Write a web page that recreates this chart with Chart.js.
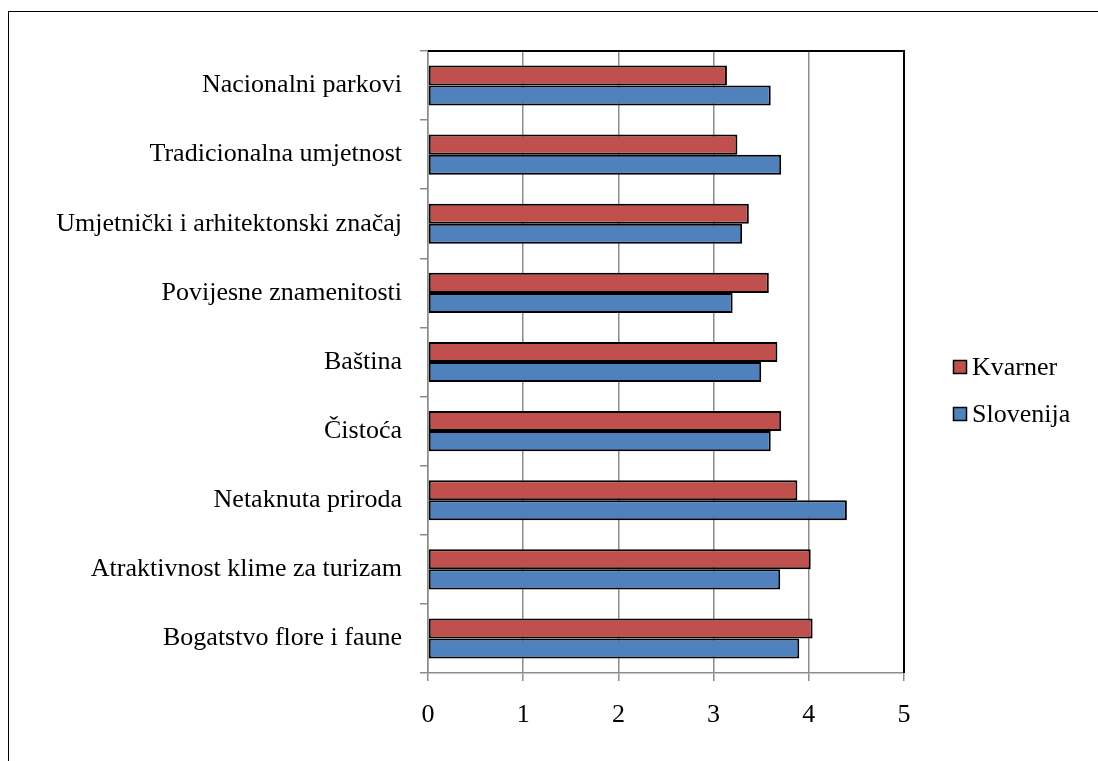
<!DOCTYPE html>
<html><head><meta charset="utf-8">
<script src="https://cdn.jsdelivr.net/npm/chart.js@4.4.0/dist/chart.umd.min.js"></script>
<style>
html,body{margin:0;padding:0;background:#fff;overflow:hidden;}
#frame{position:absolute;left:8px;top:11px;width:1200px;height:900px;border-left:1.5px solid #000;border-top:1.5px solid #000;}
#wrap{position:absolute;left:0;top:0;width:1098px;height:761px;}
</style></head>
<body>
<div id="frame"></div>
<div id="wrap"><canvas id="c" width="1098" height="761"></canvas></div>
<script>
const categories = ["Nacionalni parkovi","Tradicionalna umjetnost","Umjetnički i arhitektonski značaj","Povijesne znamenitosti","Baština","Čistoća","Netaknuta priroda","Atraktivnost klime za turizam","Bogatstvo flore i faune"];
const kvarner = [3.14,3.25,3.37,3.58,3.67,3.71,3.88,4.02,4.04];
const slovenija = [3.60,3.71,3.30,3.20,3.50,3.60,4.40,3.70,3.90];
const seriesNames = ["Kvarner","Slovenija"];
const xTicks = [0,1,2,3,4,5];
const colors = ["#C0504D","#4F81BD"];
const FONT = "'Liberation Serif','Times New Roman',serif";

const framePlugin = {
  id:'frameLines',
  afterDatasetsDraw(chart){
    const {ctx, chartArea:a} = chart;
    ctx.save();
    ctx.strokeStyle='#000'; ctx.lineWidth=2;
    ctx.beginPath();
    ctx.moveTo(a.left, a.top); ctx.lineTo(a.right, a.top); ctx.lineTo(a.right, a.bottom);
    ctx.stroke();
    ctx.restore();
  },
  afterDraw(chart){
    const {ctx} = chart;
    ctx.save();
    ctx.font = "26px " + FONT;
    ctx.textBaseline='middle';
    const ys=[367,414];
    seriesNames.forEach((n,i)=>{
      const y=ys[i];
      ctx.fillStyle=colors[i];
      ctx.fillRect(953,y-7,14,14);
      ctx.strokeStyle='#000'; ctx.lineWidth=1.5;
      ctx.strokeRect(953.5,y-6.5,13,13);
      ctx.fillStyle='#000';
      ctx.fillText(n,972,y+1);
    });
    ctx.restore();
  }
};

new Chart(document.getElementById('c'), {
  type:'bar',
  data:{
    labels:categories,
    datasets:[
      {label:seriesNames[0], data:kvarner, backgroundColor:colors[0], borderColor:'#000', borderWidth:2, borderSkipped:false, categoryPercentage:0.58, barPercentage:1.0},
      {label:seriesNames[1], data:slovenija, backgroundColor:colors[1], borderColor:'#000', borderWidth:2, borderSkipped:false, categoryPercentage:0.58, barPercentage:1.0}
    ]
  },
  options:{
    indexAxis:'y',
    responsive:false,
    animation:false,
    layout:{padding:{top:51,right:194,left:0,bottom:0}},
    plugins:{legend:{display:false},tooltip:{enabled:false}},
    scales:{
      x:{
        min:0,max:5,
        afterBuildTicks(axis){ axis.ticks = xTicks.map(v=>({value:v})); },
        afterFit(axis){ axis.height = 88; },
        grid:{color:'#8c8c8c', lineWidth:1.5, tickLength:8, drawTicks:true},
        border:{color:'#8c8c8c', width:1.5},
        ticks:{font:{family:FONT,size:26}, color:'#000', padding:19}
      },
      y:{
        afterFit(axis){ axis.width = 428; },
        grid:{drawOnChartArea:false, color:'#8c8c8c', lineWidth:1.5, tickLength:8, offset:true},
        border:{color:'#8c8c8c', width:1.5},
        ticks:{font:{family:FONT,size:26}, color:'#000', padding:18}
      }
    }
  },
  plugins:[framePlugin]
});
</script>
</body></html>
